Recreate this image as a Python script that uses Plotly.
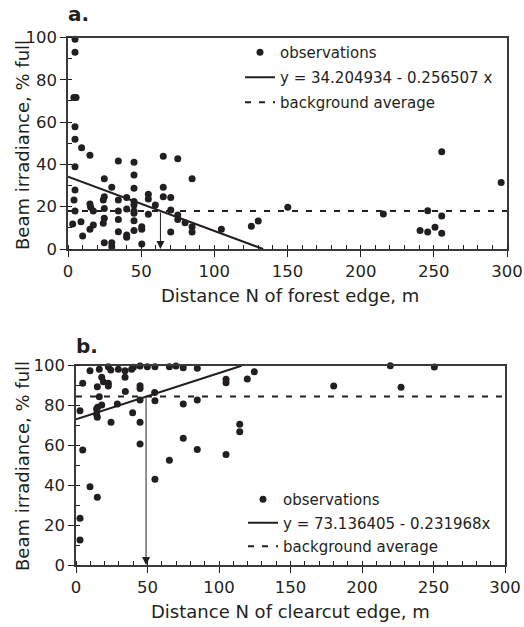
import plotly.graph_objects as go

# ---------------- data ----------------
a_x = [4.8, 4.8, 4.0, 5.5, 4.8, 4.8, 9.3, 15, 4.8, 34.4, 45.1, 45.1, 65.1, 75, 84.8, 24.8, 29.9,
       45.1, 65.1, 4.8, 4.1, 24.8, 24.1, 34.4, 40.1, 45.1, 54.9, 54.9, 65.1, 70.2, 59.7, 15, 15.5,
       4.8, 17.3, 24.8, 34.4, 40.1, 45.1, 45.1, 45.1, 54.9, 70.2, 75, 75, 80, 84.8, 84.8, 70.2,
       104.8, 125.3, 130, 3.2, 8.9, 10, 15, 17.3, 24.8, 24.1, 24.8, 29.9, 29.9, 34.4, 34.4, 40.1,
       40.1, 45.1, 45.1, 50.4, 50.4, 50.4, 150.2, 215.5, 245.8, 255.4, 240.6, 245.8, 250.8, 255.4,
       255.4, 296]
a_y = [99.2, 93, 71.6, 71.6, 57.8, 51.9, 47.9, 44.3, 38.9, 41.6, 41, 35, 43.8, 42.7, 33.2, 33.2, 29.2,
       28.7, 29.2, 27.9, 23.2, 24.7, 23.2, 23.2, 24.4, 22.4, 25.9, 23.6, 24.7, 24.3, 20.8, 21.3, 19.7,
       18, 18, 19.2, 18, 18.9, 20.8, 18, 16.9, 16.4, 18.4, 16.1, 14, 12.4, 10.5, 8, 8,
       9.3, 10.7, 13.2, 11.8, 12.9, 6.1, 9.3, 11.3, 14.5, 12.2, 3, 3, 1.1, 14, 8.2, 6.6,
       5.5, 13.4, 8.7, 10.5, 9.3, 2.4, 19.7, 16.5, 18.1, 15.6, 8.7, 8, 10.3, 7.4,
       46, 31.5]
a_intercept = 34.204934
a_slope = -0.256507
a_background = 18.0

b_x = [2.8, 4.7, 9.8, 16.3, 14.9, 18, 19.1, 22.6, 22.6, 22.6, 24.3, 29.6, 34.3, 38.9, 40.1, 44.8,
       49.9, 55.2, 65.3, 69.9, 75, 84.8, 34.3, 34.5, 44.8, 44.8, 55, 55.2, 44.8, 16.3, 15.1, 18,
       14.4, 14.9, 14.4, 28.9, 39.6, 44.8, 24.5, 75, 84.8, 104.9, 104.9, 119.8, 124.7, 114.5,
       114.5, 4.7, 44.8, 75, 84.8, 104.9, 65.3, 9.8, 14.9, 2.8, 2.8, 55.2, 180.2, 219.8, 227.3,
       250.6]
b_y = [77.4, 91.2, 97.5, 98.2, 89.5, 94.2, 92, 91.2, 89.8, 99.5, 97.8, 98.2, 97.5, 98.2, 99.2, 99.8,
       99.5, 99.5, 99.5, 99.8, 99, 98.7, 94.2, 87, 90, 88.5, 86.5, 82.4, 82.8, 84.4, 79.1, 80.3,
       78.3, 74.1, 75.6, 80.8, 76.4, 71.6, 71.6, 80.8, 82.8, 93.2, 91.5, 93.3, 97, 70.6,
       66.8, 57.7, 60.7, 63.6, 58, 55.4, 52.6, 39.3, 34, 23.4, 12.5, 43, 89.8, 100, 89.2,
       99.3]
b_intercept = 73.136405
b_slope = 0.231968
b_background = 84.5

x_ticks = [0, 50, 100, 150, 200, 250, 300]
y_ticks = [0, 20, 40, 60, 80, 100]
a_line_label = "y = 34.204934 - 0.256507 x"
b_line_label = "y = 73.136405 - 0.231968x"

FONT = "DejaVu Sans, sans-serif"
INK = "#231f20"

fig = go.Figure()

# ---------- panel a ----------
a_x_end = -a_intercept / a_slope
fig.add_trace(go.Scatter(x=a_x, y=a_y, mode="markers", name="observations",
                         marker=dict(color=INK, size=7), cliponaxis=False,
                         xaxis="x", yaxis="y", legend="legend", legendgroup="a1"))
fig.add_trace(go.Scatter(x=[0, a_x_end], y=[a_intercept, 0], mode="lines", name=a_line_label,
                         line=dict(color=INK, width=2), xaxis="x", yaxis="y",
                         legend="legend", legendgroup="a2"))
fig.add_trace(go.Scatter(x=[0, 300], y=[a_background, a_background], mode="lines",
                         name="background average",
                         line=dict(color=INK, width=2, dash="6px,8px"), xaxis="x", yaxis="y",
                         legend="legend", legendgroup="a3"))

# ---------- panel b ----------
b_x_end = (100 - b_intercept) / b_slope
fig.add_trace(go.Scatter(x=b_x, y=b_y, mode="markers", name="observations",
                         marker=dict(color=INK, size=7), cliponaxis=False,
                         xaxis="x2", yaxis="y2", legend="legend2", legendgroup="b1"))
fig.add_trace(go.Scatter(x=[0, b_x_end], y=[b_intercept, 100], mode="lines", name=b_line_label,
                         line=dict(color=INK, width=2), xaxis="x2", yaxis="y2",
                         legend="legend2", legendgroup="b2"))
fig.add_trace(go.Scatter(x=[0, 300], y=[b_background, b_background], mode="lines",
                         name="background average",
                         line=dict(color=INK, width=2, dash="6px,8px"), xaxis="x2", yaxis="y2",
                         legend="legend2", legendgroup="b3"))

a_cross = (a_background - a_intercept) / a_slope
b_cross = (b_background - b_intercept) / b_slope

W, H = 524, 627


def px(v):
    return v / W


def py(v):
    return 1 - v / H


def dom_x(l, r):
    return [px(l), px(r)]


def dom_y(top, bottom):
    return [py(bottom), py(top)]


axis_common = dict(showline=True, linecolor="#3a3a3a", linewidth=1.5, mirror=True,
                   showgrid=False, zeroline=False, ticks="outside", ticklen=6, tickwidth=1.2,
                   tickcolor=INK, tickfont=dict(family=FONT, size=16.5, color=INK),
                   ticklabeloverflow="allow",
                   minor=dict(ticks="inside", ticklen=4, tickwidth=1, tickcolor=INK, dtick=10,
                              showgrid=False))

fig.update_layout(
    width=W, height=H,
    margin=dict(l=0, r=0, t=0, b=0),
    paper_bgcolor="white", plot_bgcolor="white",
    font=dict(family=FONT, color=INK),
    xaxis=dict(domain=dom_x(68, 507), range=[0, 300], tickvals=x_ticks, anchor="y",
               automargin=False, **axis_common),
    yaxis=dict(domain=dom_y(37.5, 249), range=[0, 100], tickvals=y_ticks, anchor="x",
               automargin=False, **axis_common),
    xaxis2=dict(domain=dom_x(76, 505), range=[0, 300], tickvals=x_ticks, anchor="y2",
                automargin=False, **axis_common),
    yaxis2=dict(domain=dom_y(365.7, 565), range=[0, 100], tickvals=y_ticks, anchor="x2",
                automargin=False, **axis_common),
    legend=dict(x=px(240), y=py(36), xanchor="left", yanchor="top",
                bgcolor="rgba(0,0,0,0)", font=dict(family=FONT, size=15, color=INK),
                tracegroupgap=2.5, itemwidth=30),
    legend2=dict(x=px(243), y=py(483), xanchor="left", yanchor="top",
                 bgcolor="rgba(0,0,0,0)", font=dict(family=FONT, size=15, color=INK),
                 tracegroupgap=1, itemwidth=30),
    showlegend=True,
)

annotations = [
    dict(x=a_cross, y=0, ax=a_cross, ay=a_background, xref="x", yref="y", axref="x", ayref="y",
         showarrow=True, arrowhead=2, arrowsize=1.6, arrowwidth=1, arrowcolor=INK, text=""),
    dict(x=b_cross, y=0, ax=b_cross, ay=b_background, xref="x2", yref="y2", axref="x2", ayref="y2",
         showarrow=True, arrowhead=2, arrowsize=1.6, arrowwidth=1, arrowcolor=INK, text=""),
    dict(text="<b>a.</b>", x=px(66), y=py(14), xref="paper", yref="paper", xanchor="left",
         yanchor="middle", showarrow=False, font=dict(family=FONT, size=20, color=INK)),
    dict(text="<b>b.</b>", x=px(74), y=py(346), xref="paper", yref="paper", xanchor="left",
         yanchor="middle", showarrow=False, font=dict(family=FONT, size=20, color=INK)),
    dict(text="Beam irradiance, % full", x=px(22), y=py(145), xref="paper", yref="paper",
         xanchor="center", yanchor="middle",
         textangle=-90, showarrow=False, font=dict(family=FONT, size=18, color=INK)),
    dict(text="Beam irradiance, % full", x=px(22), y=py(466), xref="paper", yref="paper",
         xanchor="center", yanchor="middle",
         textangle=-90, showarrow=False, font=dict(family=FONT, size=18, color=INK)),
    dict(text="Distance N of forest edge, m", x=px(290), y=py(295), xref="paper",
         yref="paper", xanchor="center", yanchor="middle",
         showarrow=False, font=dict(family=FONT, size=18, color=INK)),
    dict(text="Distance N of clearcut edge, m", x=px(290), y=py(611), xref="paper",
         yref="paper", xanchor="center", yanchor="middle",
         showarrow=False, font=dict(family=FONT, size=18, color=INK)),
]
fig.update_layout(annotations=annotations)

fig.write_html("out.html", config={"displayModeBar": False},
               post_script="document.body.style.margin='0';document.body.style.padding='0';")
